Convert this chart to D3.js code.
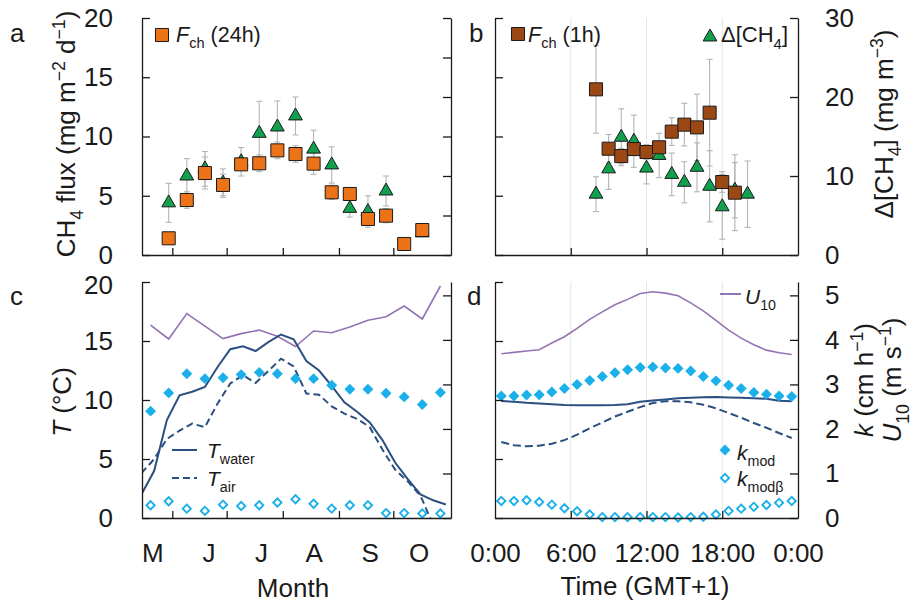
<!DOCTYPE html>
<html>
<head>
<meta charset="utf-8">
<script src="https://cdn.jsdelivr.net/npm/d3@7"></script>
<style>
  html, body { margin: 0; padding: 0; background: #fff; }
  svg { display: block; }
</style>
</head>
<body>
<svg id="chart" width="913" height="607"></svg>
<script>
// ---------- data ----------
// seasonal (10-day) sampling dates
const dekadDates = ["2016-05-20","2016-05-30","2016-06-09","2016-06-19","2016-06-29","2016-07-09",
  "2016-07-19","2016-07-29","2016-08-08","2016-08-18","2016-08-28","2016-09-07","2016-09-17",
  "2016-09-27","2016-10-07","2016-10-17","2016-10-27"];
// chamber flux, 24 h means (mg m-2 d-1) and SD
const fluxDaily    = [null,1.41,4.64,6.92,5.91,7.65,7.74,8.83,8.52,7.71,5.29,5.15,3.04,3.32,0.93,2.11,null];
const fluxDailyErr = [null,0,0.7,1.35,0.9,0.3,0.7,0.7,0.7,0.9,0.6,0.5,0.3,0.6,0.2,0.2,null];
// surface-water CH4 excess (mg m-3) and SD
const dch4Daily    = [null,6.6,10.0,10.9,9.1,11.8,15.4,16.2,17.6,13.4,11.4,5.9,5.5,8.1,null,2.8,null];
const dch4DailyErr = [null,2.47,2.2,2.2,1.8,1.8,4.05,3.3,2.4,2.4,2.3,1.1,2.0,1.9,null,0.3,null];
// wind speed and modelled gas transfer velocities, seasonal
const u10Season       = [4.33,4.02,4.59,4.31,4.03,4.14,4.22,4.08,3.85,4.20,4.16,4.29,4.44,4.52,4.76,4.47,5.21];
const kModSeason      = [2.40,2.81,3.24,3.13,3.15,3.22,3.27,3.24,3.13,3.13,2.98,2.89,2.89,2.80,2.72,2.55,2.82];
const kModBetaSeason  = [0.285,0.375,0.21,0.16,0.30,0.27,0.285,0.35,0.42,0.32,0.21,0.285,0.285,0.11,0.11,0.10,0.10];

// weekly temperatures (°C)
const weekDates = ["2016-05-15","2016-05-22","2016-05-29","2016-06-05","2016-06-12","2016-06-19",
  "2016-06-26","2016-07-03","2016-07-10","2016-07-17","2016-07-24","2016-07-31","2016-08-07",
  "2016-08-14","2016-08-21","2016-08-28","2016-09-04","2016-09-11","2016-09-18","2016-09-25",
  "2016-10-02","2016-10-09","2016-10-16","2016-10-23","2016-10-30"];
const tWaterSeason = [2.0,4.0,8.3,10.4,10.7,11.1,12.8,14.3,14.55,14.15,14.9,15.55,15.15,13.3,12.5,
  11.2,9.8,9.0,8.1,6.6,4.7,3.3,2.0,1.5,1.15];
const tAirSeason   = [3.8,5.0,6.7,7.4,8.0,7.7,9.7,11.4,12.1,11.45,12.45,13.5,12.85,10.55,10.45,
  9.45,8.85,8.4,7.7,5.8,4.1,3.1,1.9,-0.6,-1.5];

// month axis
const monthStarts     = ["2016-06-01","2016-07-01","2016-08-01","2016-09-01","2016-10-01"];
const monthLabels     = ["M","J","J","A","S","O"];
const monthLabelDates = ["2016-05-21","2016-06-21","2016-07-20","2016-08-18","2016-09-18","2016-10-15"];

// diurnal cycle: hourly chamber fluxes and CH4 excess
const fluxHours      = [8,9,10,11,12,13,14,15,16,17,18,19];
const fluxHourly     = [13.98,8.97,8.35,8.94,8.69,9.09,10.41,11.0,10.77,12.01,6.16,5.26];
const fluxHourlyErr  = [3.7,1.2,0.65,0.5,0.62,0.5,1.17,1.8,2.8,4.5,0.87,3.2];
const dch4Hours      = [8,9,10,11,12,13,14,15,16,17,18,19,20];
const dch4Hourly     = [7.7,10.9,14.9,14.4,11.0,12.6,10.2,9.2,11.1,8.7,6.1,8.2,7.7];
const dch4HourlyErr  = [2.2,2.6,3.6,3.3,2.0,2.8,2.7,2.6,3.1,4.5,4.1,3.5,4.2];

// diurnal cycle at half-hour marks
const halfHours   = [0.5,1.5,2.5,3.5,4.5,5.5,6.5,7.5,8.5,9.5,10.5,11.5,12.5,13.5,14.5,15.5,
  16.5,17.5,18.5,19.5,20.5,21.5,22.5,23.5];
const u10Day      = [3.69,3.72,3.75,3.78,3.93,4.07,4.26,4.46,4.63,4.79,4.91,5.04,5.08,5.05,4.99,
  4.83,4.65,4.44,4.22,4.04,3.89,3.77,3.71,3.67];
const kModDay     = [2.74,2.74,2.76,2.77,2.83,2.91,3.0,3.09,3.18,3.26,3.33,3.38,3.39,3.37,3.36,
  3.30,3.18,3.08,2.98,2.91,2.82,2.78,2.74,2.73];
const kModBetaDay = [0.38,0.38,0.40,0.36,0.30,0.22,0.15,0.08,0.02,0.02,0.02,0.02,0.02,0.02,0.01,
  0.02,0.03,0.08,0.16,0.21,0.25,0.29,0.34,0.38];
const tWaterDay   = [9.92,9.85,9.76,9.70,9.64,9.58,9.55,9.55,9.55,9.58,9.64,9.85,9.95,10.05,10.15,
  10.2,10.23,10.25,10.22,10.2,10.15,10.1,9.93,9.9];
const tAirDay     = [6.44,6.16,6.08,6.12,6.3,6.6,7.06,7.6,8.1,8.6,9.0,9.4,9.75,9.9,9.9,9.8,9.6,
  9.3,8.9,8.5,8.05,7.65,7.2,6.78];

// axis ticks
const fluxTicks   = [0,5,10,15,20];
const concTicksA  = [0,5,10,15,20,25,30];
const concTicksB  = [0,10,20,30];
const tempTicks   = [0,5,10,15,20];
const kTicks      = [0,1,2,3,4,5];
const hourTicks   = [6,12,18];
const hourLabelAt = [0,6,12,18,24];
const hourLabels  = ["0:00","6:00","12:00","18:00","0:00"];

// ---------- styling ----------
const FONT = "'Liberation Sans', Arial, Helvetica, sans-serif";
const COL = {
  ink: "#1a1a1a",
  orange: "#ec7318",
  brown: "#9c4814",
  green: "#10a04e",
  err: "#b4b4b4",
  cyan: "#1bb0ea",
  navy: "#2a4f80",
  purple: "#9473b4",
  grid: "#e6e6e6"
};

const svg = d3.select("#chart").attr("font-family", FONT);
const parse = d3.utcParse("%Y-%m-%d");
const intFmt = d3.format("d");

// ---------- panel frames ----------
const P = {
  a: {x0: 142, x1: 451, y0: 18,  y1: 255},
  b: {x0: 495, x1: 798, y0: 18,  y1: 255},
  c: {x0: 142, x1: 451, y0: 282, y1: 518},
  d: {x0: 495, x1: 798, y0: 282, y1: 518}
};

// ---------- scales ----------
const xSeason = d3.scaleUtc()
  .domain([new Date(Date.UTC(2016, 4, 15, 6, 30)), new Date(Date.UTC(2016, 10, 1, 20, 30))])
  .range([P.a.x0, P.a.x1]);
const xDay  = d3.scaleLinear().domain([0, 24]).range([P.b.x0, P.b.x1]);
const yFlux = d3.scaleLinear().domain([0, 20]).range([P.a.y1, P.a.y0]);
const yConc = d3.scaleLinear().domain([0, 30]).range([P.a.y1, P.a.y0]);
const yTemp = d3.scaleLinear().domain([0, 20]).range([P.c.y1, P.c.y0]);
const yK    = d3.scaleLinear().domain([0, 5.3]).range([P.c.y1, P.c.y0]);

// ---------- helpers ----------
const defs = svg.append("defs");
Object.entries(P).forEach(([k, p]) => {
  defs.append("clipPath").attr("id", "clip-" + k)
    .append("rect").attr("x", p.x0).attr("y", p.y0)
    .attr("width", p.x1 - p.x0).attr("height", p.y1 - p.y0);
});

function styleAxis(g, size) {
  g.attr("font-family", FONT).attr("font-size", size || 26);
  g.selectAll("path.domain").attr("stroke", COL.ink).attr("stroke-width", 1.3);
  g.selectAll(".tick line").attr("stroke", COL.ink).attr("stroke-width", 1.3);
  g.selectAll(".tick text").attr("fill", COL.ink);
  return g;
}

function rich(parent, parts, size) {
  const t = parent.append("text").attr("font-size", size).attr("fill", COL.ink);
  let shift = 0;
  parts.forEach(p => {
    const target = p.sub ? size * 0.3 : p.sup ? -size * 0.38 : 0;
    const ts = t.append("tspan").text(p.t).attr("dy", target - shift);
    if (p.sub || p.sup) ts.attr("font-size", size * 0.68);
    if (p.it) ts.attr("font-style", "italic");
    shift = target;
  });
  return t;
}

const squareSym   = d3.symbol().type(d3.symbolSquare).size(170);
const triangleSym = d3.symbol().type(d3.symbolTriangle).size(82);
const diamondSym  = d3.symbol().type(d3.symbolSquare).size(60);
const openDiaSym  = d3.symbol().type(d3.symbolSquare).size(34);

function errorBars(g, data, x, y) {
  const bars = g.append("g").attr("stroke", COL.err).attr("stroke-width", 1.1).attr("fill", "none");
  data.forEach(d => {
    if (!d.e) return;
    const xx = x(d.x), lo = y(d.v - d.e), hi = y(d.v + d.e);
    bars.append("line").attr("x1", xx).attr("x2", xx).attr("y1", lo).attr("y2", hi);
    bars.append("line").attr("x1", xx - 3).attr("x2", xx + 3).attr("y1", lo).attr("y2", lo);
    bars.append("line").attr("x1", xx - 3).attr("x2", xx + 3).attr("y1", hi).attr("y2", hi);
  });
}

function markers(g, data, x, y, sym, fill) {
  g.append("g").selectAll("path").data(data).join("path")
    .attr("d", sym)
    .attr("transform", d => `translate(${x(d.x)},${y(d.v)})`)
    .attr("fill", fill)
    .attr("stroke", COL.ink)
    .attr("stroke-width", 1);
}

function diamonds(g, data, x, y, filled) {
  g.append("g").selectAll("path").data(data).join("path")
    .attr("d", filled ? diamondSym : openDiaSym)
    .attr("transform", d => `translate(${x(d.x)},${y(d.v)}) rotate(45)`)
    .attr("fill", filled ? COL.cyan : "#fff")
    .attr("stroke", filled ? "none" : COL.cyan)
    .attr("stroke-width", 1.9);
}

function grid(g, p) {
  g.append("g").selectAll("line").data(hourTicks).join("line")
    .attr("x1", d => xDay(d)).attr("x2", d => xDay(d))
    .attr("y1", p.y0).attr("y2", p.y1)
    .attr("stroke", COL.grid).attr("stroke-width", 1);
}

const pairs = (xs, vs, es) => xs.map((x, i) => ({x: x, v: vs[i], e: es ? es[i] : 0}))
  .filter(d => d.v !== null && d.v !== undefined);

// ---------- panel a ----------
const gA = svg.append("g");
const aConc = pairs(dekadDates.map(parse), dch4Daily, dch4DailyErr);
const aFlux = pairs(dekadDates.map(parse), fluxDaily, fluxDailyErr);
errorBars(gA, aConc, xSeason, yConc);
errorBars(gA, aFlux, xSeason, yFlux);
markers(gA, aConc, xSeason, yConc, triangleSym, COL.green);
markers(gA, aFlux, xSeason, yFlux, squareSym, COL.orange);

styleAxis(gA.append("g").attr("transform", `translate(${P.a.x0},0)`)
  .call(d3.axisLeft(yFlux).tickValues(fluxTicks).tickFormat(intFmt)
    .tickSizeInner(-8).tickSizeOuter(0).tickPadding(29)));
styleAxis(gA.append("g").attr("transform", `translate(${P.a.x1},0)`)
  .call(d3.axisRight(yConc).tickValues(concTicksA).tickSizeInner(-8).tickSizeOuter(0).tickFormat("")));
styleAxis(gA.append("g").attr("transform", `translate(0,${P.a.y1})`)
  .call(d3.axisBottom(xSeason).tickValues(monthStarts.map(parse)).tickSizeInner(-7).tickSizeOuter(0).tickFormat("")));

// legend a
gA.append("path").attr("d", squareSym).attr("transform", "translate(162,35)")
  .attr("fill", COL.orange).attr("stroke", COL.ink).attr("stroke-width", 1);
rich(gA, [{t: "F", it: true}, {t: "ch", sub: true}, {t: " (24h)"}], 21.5).attr("x", 176).attr("y", 42);

// ---------- panel b ----------
const gB = svg.append("g");
grid(gB, P.b);
const bConc = pairs(dch4Hours, dch4Hourly, dch4HourlyErr);
const bFlux = pairs(fluxHours, fluxHourly, fluxHourlyErr);
errorBars(gB, bConc, xDay, yConc);
errorBars(gB, bFlux, xDay, yFlux);
markers(gB, bConc, xDay, yConc, triangleSym, COL.green);
markers(gB, bFlux, xDay, yFlux, squareSym, COL.brown);

styleAxis(gB.append("g").attr("transform", `translate(${P.b.x0},0)`)
  .call(d3.axisLeft(yFlux).tickValues(fluxTicks).tickSizeInner(-8).tickSizeOuter(0).tickFormat("")));
styleAxis(gB.append("g").attr("transform", `translate(${P.b.x1},0)`)
  .call(d3.axisRight(yConc).tickValues(concTicksB).tickFormat(intFmt)
    .tickSizeInner(-8).tickSizeOuter(0).tickPadding(27)));
styleAxis(gB.append("g").attr("transform", `translate(0,${P.b.y1})`)
  .call(d3.axisBottom(xDay).tickValues(hourTicks).tickSizeInner(-7).tickSizeOuter(0).tickFormat("")));

// legend b
gB.append("path").attr("d", squareSym).attr("transform", "translate(518,34)")
  .attr("fill", COL.brown).attr("stroke", COL.ink).attr("stroke-width", 1);
rich(gB, [{t: "F", it: true}, {t: "ch", sub: true}, {t: " (1h)"}], 21.5).attr("x", 528).attr("y", 42);
gB.append("path").attr("d", triangleSym).attr("transform", "translate(710,37)")
  .attr("fill", COL.green).attr("stroke", COL.ink).attr("stroke-width", 1);
rich(gB, [{t: "Δ[CH"}, {t: "4", sub: true}, {t: "]"}], 22).attr("x", 721).attr("y", 42);

// ---------- panel c ----------
const gC = svg.append("g");
const cWeek = weekDates.map(parse);
const cDek  = dekadDates.map(parse);
const lineC = (ys, yScale) => d3.line().x((d, i) => xSeason(cWeek[i])).y(d => yScale(d))(ys);
const lineCDek = (ys, yScale) => d3.line().x((d, i) => xSeason(cDek[i])).y(d => yScale(d))(ys);

const cClip = gC.append("g").attr("clip-path", "url(#clip-c)");
cClip.append("path").attr("d", lineCDek(u10Season, yK))
  .attr("fill", "none").attr("stroke", COL.purple).attr("stroke-width", 1.6);
diamonds(gC, pairs(cDek, kModSeason), xSeason, yK, true);
cClip.append("path").attr("d", lineC(tWaterSeason, yTemp))
  .attr("fill", "none").attr("stroke", COL.navy).attr("stroke-width", 2);
cClip.append("path").attr("d", lineC(tAirSeason, yTemp))
  .attr("fill", "none").attr("stroke", COL.navy).attr("stroke-width", 2).attr("stroke-dasharray", "7,4");
diamonds(gC, pairs(cDek, kModBetaSeason), xSeason, yK, false);

const cLeft = styleAxis(gC.append("g").attr("transform", `translate(${P.c.x0},0)`)
  .call(d3.axisLeft(yTemp).tickValues(tempTicks).tickFormat(intFmt)
    .tickSizeInner(-8).tickSizeOuter(0).tickPadding(29)));
// top label sits a little lower so it clears the "0" of the panel above
cLeft.selectAll(".tick text").filter(d => d === 20).attr("dy", "0.43em");
styleAxis(gC.append("g").attr("transform", `translate(${P.c.x1},0)`)
  .call(d3.axisRight(yK).tickValues(kTicks).tickSizeInner(-8).tickSizeOuter(0).tickFormat("")));
styleAxis(gC.append("g").attr("transform", `translate(0,${P.c.y1})`)
  .call(d3.axisBottom(xSeason).tickValues(monthStarts.map(parse)).tickSizeInner(-7).tickSizeOuter(0).tickFormat("")));
const mAxis = gC.append("g").attr("transform", `translate(0,${P.c.y1})`)
  .call(d3.axisBottom(xSeason).tickValues(monthLabelDates.map(parse)).tickSize(0).tickPadding(26)
    .tickFormat((d, i) => monthLabels[i]));
styleAxis(mAxis);
mAxis.select("path.domain").remove();

// legend c
gC.append("line").attr("x1", 172).attr("x2", 197).attr("y1", 450).attr("y2", 450)
  .attr("stroke", COL.navy).attr("stroke-width", 2);
gC.append("line").attr("x1", 172).attr("x2", 197).attr("y1", 478).attr("y2", 478)
  .attr("stroke", COL.navy).attr("stroke-width", 2).attr("stroke-dasharray", "7,4");
rich(gC, [{t: "T", it: true}, {t: "water", sub: true}], 21).attr("x", 207).attr("y", 458);
rich(gC, [{t: "T", it: true}, {t: "air", sub: true}], 21).attr("x", 207).attr("y", 486);

// ---------- panel d ----------
const gD = svg.append("g");
grid(gD, P.d);
const lineD = (ys, yScale) => d3.line().x((d, i) => xDay(halfHours[i])).y(d => yScale(d))(ys);
const dClip = gD.append("g").attr("clip-path", "url(#clip-d)");
dClip.append("path").attr("d", lineD(u10Day, yK))
  .attr("fill", "none").attr("stroke", COL.purple).attr("stroke-width", 1.6);
diamonds(gD, pairs(halfHours, kModDay), xDay, yK, true);
dClip.append("path").attr("d", lineD(tWaterDay, yTemp))
  .attr("fill", "none").attr("stroke", COL.navy).attr("stroke-width", 2);
dClip.append("path").attr("d", lineD(tAirDay, yTemp))
  .attr("fill", "none").attr("stroke", COL.navy).attr("stroke-width", 2).attr("stroke-dasharray", "8,4");
diamonds(gD, pairs(halfHours, kModBetaDay), xDay, yK, false);

styleAxis(gD.append("g").attr("transform", `translate(${P.d.x0},0)`)
  .call(d3.axisLeft(yTemp).tickValues(tempTicks).tickSizeInner(-8).tickSizeOuter(0).tickFormat("")));
styleAxis(gD.append("g").attr("transform", `translate(${P.d.x1},0)`)
  .call(d3.axisRight(yK).tickValues(kTicks).tickFormat(intFmt)
    .tickSizeInner(-8).tickSizeOuter(0).tickPadding(27)));
styleAxis(gD.append("g").attr("transform", `translate(0,${P.d.y1})`)
  .call(d3.axisBottom(xDay).tickValues(hourTicks).tickSizeInner(-7).tickSizeOuter(0).tickFormat("")));
const hAxis = gD.append("g").attr("transform", `translate(0,${P.d.y1})`)
  .call(d3.axisBottom(xDay).tickValues(hourLabelAt).tickSize(0).tickPadding(26)
    .tickFormat((d, i) => hourLabels[i]));
styleAxis(hAxis);
hAxis.select("path.domain").remove();

// legend d
gD.append("line").attr("x1", 720).attr("x2", 741).attr("y1", 294).attr("y2", 294)
  .attr("stroke", COL.purple).attr("stroke-width", 2);
rich(gD, [{t: "U", it: true}, {t: "10", sub: true}], 21).attr("x", 745).attr("y", 304);
gD.append("path").attr("d", diamondSym).attr("transform", "translate(725,450) rotate(45)")
  .attr("fill", COL.cyan);
rich(gD, [{t: "k", it: true}, {t: "mod", sub: true}], 21).attr("x", 737).attr("y", 460);
gD.append("path").attr("d", openDiaSym).attr("transform", "translate(725,478) rotate(45)")
  .attr("fill", "#fff").attr("stroke", COL.cyan).attr("stroke-width", 1.9);
rich(gD, [{t: "k", it: true}, {t: "modβ", sub: true}], 21).attr("x", 737).attr("y", 486);

// ---------- panel letters and axis titles ----------
const letters = [["a", 10, 42], ["b", 469, 42], ["c", 10, 305], ["d", 467, 305]];
letters.forEach(([s, x, y]) => svg.append("text").text(s).attr("x", x).attr("y", y)
  .attr("font-size", 26).attr("fill", COL.ink));

function vTitle(parts, x, y) {
  rich(svg, parts, 26).attr("text-anchor", "middle")
    .attr("transform", `translate(${x},${y}) rotate(-90)`);
}
vTitle([{t: "CH"}, {t: "4", sub: true}, {t: " flux (mg m"}, {t: "−2", sup: true}, {t: " d"},
  {t: "−1", sup: true}, {t: ")"}], 75, 134);
vTitle([{t: "Δ[CH"}, {t: "4", sub: true}, {t: "] (mg m"}, {t: "−3", sup: true}, {t: ")"}], 893, 124);
vTitle([{t: "T", it: true}, {t: " (°C)"}], 71, 402);
vTitle([{t: "k", it: true}, {t: " (cm h"}, {t: "−1", sup: true}, {t: ")"}], 873, 380);
vTitle([{t: "U", it: true}, {t: "10", sub: true}, {t: " (m s"}, {t: "−1", sup: true}, {t: ")"}], 901, 380);

svg.append("text").text("Month").attr("x", 293).attr("y", 597)
  .attr("text-anchor", "middle").attr("font-size", 26).attr("fill", COL.ink);
svg.append("text").text("Time (GMT+1)").attr("x", 645).attr("y", 595)
  .attr("text-anchor", "middle").attr("font-size", 26).attr("fill", COL.ink);
</script>
</body>
</html>
